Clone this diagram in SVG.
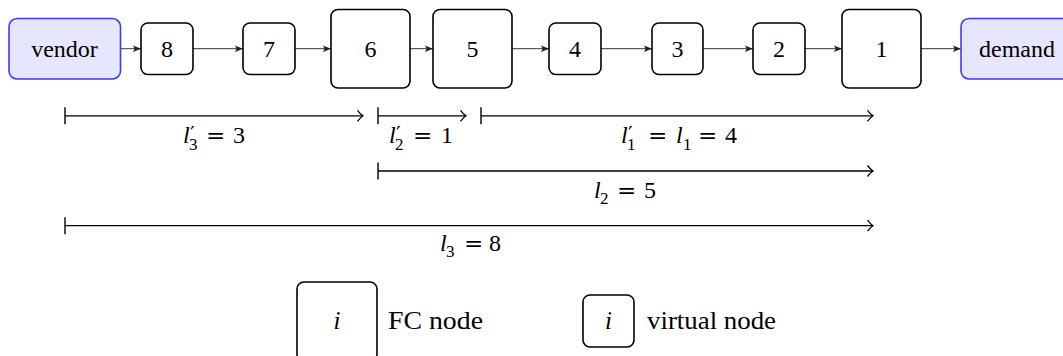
<svg xmlns="http://www.w3.org/2000/svg" width="1063" height="356" viewBox="0 0 1063 356" font-family="'Liberation Serif','DejaVu Serif',serif">
<defs>
<style>
.box{fill:#fff;stroke:#000;stroke-width:1.6}
.end{fill:#e6e6ff;stroke:#3b3bff;stroke-width:1.6}
text{font-family:'Liberation Serif','DejaVu Serif',serif;font-size:24px;fill:#000}
.c{text-anchor:middle}
.it{font-style:italic}
.sub{font-size:17px}
.pr{font-family:'DejaVu Serif',serif;font-size:21px}
.eq{font-family:'DejaVu Serif',serif;font-size:23px}
.lg{font-size:25px}
.chain{stroke:#222;stroke-width:0.9;fill:none;marker-end:url(#stealth)}
.dim{stroke:#000;stroke-width:1.3;fill:none;marker-start:url(#bar);marker-end:url(#to)}
</style>
<marker id="stealth" markerUnits="userSpaceOnUse" markerWidth="12" markerHeight="10" refX="9" refY="5" orient="auto" viewBox="0 0 12 10">
<path d="M1,1.8 L9,5 L1,8.2 L2.6,5 Z" fill="#222"/>
</marker>
<marker id="to" markerUnits="userSpaceOnUse" markerWidth="14" markerHeight="16" refX="10" refY="8" orient="auto" viewBox="0 0 14 16">
<path d="M4.5,2.5 Q7.5,6.5 10,8 Q7.5,9.5 4.5,13.5" fill="none" stroke="#000" stroke-width="1.3"/>
</marker>
<marker id="bar" markerUnits="userSpaceOnUse" markerWidth="6" markerHeight="20" refX="3" refY="10" orient="auto" viewBox="0 0 6 20">
<path d="M3,1.5 L3,18.5" stroke="#000" stroke-width="1.4"/>
</marker>
</defs>

<g id="connectors">
<line class="chain" x1="120.5" y1="48.7" x2="141" y2="48.7"/>
<line class="chain" x1="193" y1="48.7" x2="243" y2="48.7"/>
<line class="chain" x1="295" y1="48.7" x2="331" y2="48.7"/>
<line class="chain" x1="410" y1="48.7" x2="433" y2="48.7"/>
<line class="chain" x1="512" y1="48.7" x2="549" y2="48.7"/>
<line class="chain" x1="601" y1="48.7" x2="652" y2="48.7"/>
<line class="chain" x1="703" y1="48.7" x2="753" y2="48.7"/>
<line class="chain" x1="805" y1="48.7" x2="842" y2="48.7"/>
<line class="chain" x1="921" y1="48.7" x2="961" y2="48.7"/>
</g>

<g id="node-vendor"><rect class="end" x="9" y="18.5" width="111.5" height="60.5" rx="8"/><text class="c" x="64.5" y="57">vendor</text></g>
<g id="node-8"><rect class="box" x="141" y="23" width="52" height="51.5" rx="7"/><text class="c" x="167" y="56.5">8</text></g>
<g id="node-7"><rect class="box" x="243" y="23" width="52" height="51.5" rx="7"/><text class="c" x="269" y="56.5">7</text></g>
<g id="node-6"><rect class="box" x="331" y="9.5" width="79" height="78.5" rx="7"/><text class="c" x="370.5" y="56.5">6</text></g>
<g id="node-5"><rect class="box" x="433" y="9.5" width="79" height="78.5" rx="7"/><text class="c" x="472.5" y="56.5">5</text></g>
<g id="node-4"><rect class="box" x="549" y="23" width="52" height="51.5" rx="7"/><text class="c" x="575" y="56.5">4</text></g>
<g id="node-3"><rect class="box" x="652" y="23" width="51" height="51.5" rx="7"/><text class="c" x="677.5" y="56.5">3</text></g>
<g id="node-2"><rect class="box" x="753" y="23" width="52" height="51.5" rx="7"/><text class="c" x="779" y="56.5">2</text></g>
<g id="node-1"><rect class="box" x="842" y="9.5" width="79" height="78.5" rx="7"/><text class="c" x="881.5" y="56.5">1</text></g>
<g id="node-demand"><rect class="end" x="961" y="18.5" width="111.5" height="60.5" rx="8"/><text class="c" x="1017" y="57">demand</text></g>

<g id="dimensions">
<line class="dim" x1="65" y1="115.8" x2="363" y2="115.8"/>
<line class="dim" x1="378" y1="115.8" x2="466" y2="115.8"/>
<line class="dim" x1="481" y1="115.8" x2="873" y2="115.8"/>
<line class="dim" x1="378" y1="171" x2="873" y2="171"/>
<line class="dim" x1="65" y1="225.7" x2="873" y2="225.7"/>
</g>

<g id="labels">
<text x="183" y="143"><tspan class="it">l</tspan><tspan class="pr" x="190" y="141">′</tspan><tspan class="sub" x="189" y="150">3</tspan><tspan class="eq" x="206" y="143">=</tspan><tspan x="233" y="143">3</tspan></text>
<text x="389" y="143"><tspan class="it">l</tspan><tspan class="pr" x="396" y="141">′</tspan><tspan class="sub" x="395" y="150">2</tspan><tspan class="eq" x="413" y="143">=</tspan><tspan x="441" y="143">1</tspan></text>
<text x="621" y="143"><tspan class="it">l</tspan><tspan class="pr" x="628" y="141">′</tspan><tspan class="sub" x="627" y="150">1</tspan><tspan class="eq" x="648" y="143">=</tspan><tspan class="it" x="676" y="143">l</tspan><tspan class="sub" x="683" y="150">1</tspan><tspan class="eq" x="698" y="143">=</tspan><tspan x="725" y="143">4</tspan></text>
<text x="594" y="197.5"><tspan class="it">l</tspan><tspan class="sub" x="600" y="204">2</tspan><tspan class="eq" x="617" y="197.5">=</tspan><tspan x="644" y="197.5">5</tspan></text>
<text x="440" y="250.5"><tspan class="it">l</tspan><tspan class="sub" x="446" y="257">3</tspan><tspan class="eq" x="464" y="250.5">=</tspan><tspan x="489" y="250.5">8</tspan></text>
</g>

<g id="legend-fc"><rect class="box" x="297" y="282" width="80" height="79" rx="7"/><text class="c it lg" x="337" y="329">i</text><text class="lg" x="388" y="329" textLength="95" lengthAdjust="spacingAndGlyphs">FC node</text></g>
<g id="legend-virtual"><rect class="box" x="583" y="295" width="51" height="52" rx="7"/><text class="c it lg" x="608.5" y="329">i</text><text class="lg" x="647" y="329" textLength="129" lengthAdjust="spacingAndGlyphs">virtual node</text></g>
</svg>
